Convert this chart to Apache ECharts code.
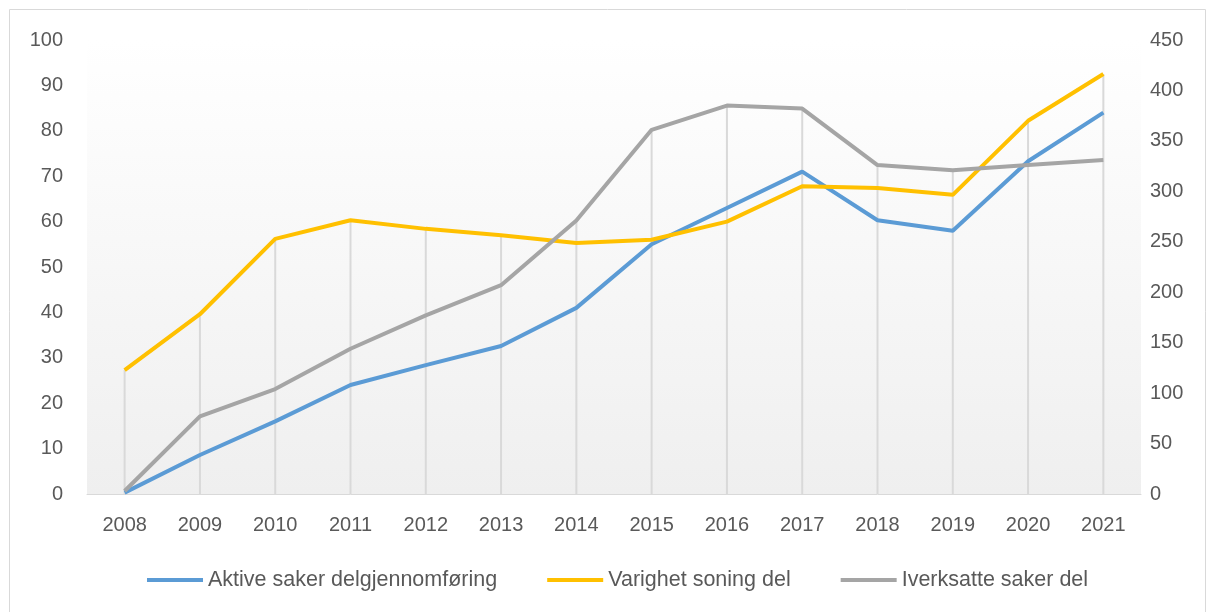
<!DOCTYPE html>
<html>
<head>
    <meta charset="utf-8">
    <title>Delgjennomføring</title>
    <style>
        html, body { margin: 0; padding: 0; background: #fff; }
    </style>
</head>
<body>
    <div id="main" style="width: 1208px; height: 612px;"></div>
    <script src="https://cdn.jsdelivr.net/npm/echarts@6/dist/echarts.min.js"></script>
    <script type="text/javascript">
        // data
        var years = ['2008', '2009', '2010', '2011', '2012', '2013', '2014',
                     '2015', '2016', '2017', '2018', '2019', '2020', '2021'];
        var aktive = [0.3, 8.6, 16, 24, 28.4, 32.6, 41, 55, 63, 71, 60.3, 58, 73.3, 84];
        var varighet = [27.3, 39.6, 56.2, 60.3, 58.4, 57, 55.3, 56, 60, 67.8, 67.4, 65.9, 82.2, 92.5];
        var iverksatte = [3, 77, 104, 144, 177, 207, 271, 361, 385, 382, 326, 321, 326, 331];

        var leftMax = 100, rightMax = 450;

        // drop lines: up to the highest point in each year (in left-axis units)
        var dropTop = years.map(function (y, i) {
            return Math.max(aktive[i], varighet[i], iverksatte[i] * leftMax / rightMax);
        });

        var font = 'Liberation Sans';
        var labelColor = '#595959';

        var chart = echarts.init(document.getElementById('main'));
        var option = {
            animation: false,
            textStyle: { fontFamily: font },
            graphic: [{
                type: 'rect',
                shape: { x: 9.5, y: 9.5, width: 1196, height: 610 },
                style: { fill: 'none', stroke: '#d9d9d9', lineWidth: 1 },
                silent: true
            }],
            grid: {
                left: 87, right: 67, top: 40, bottom: 118,
                show: true,
                borderWidth: 0,
                backgroundColor: {
                    type: 'linear', x: 0, y: 0, x2: 0, y2: 1,
                    colorStops: [
                        { offset: 0, color: '#ffffff' },
                        { offset: 1, color: '#efefef' }
                    ]
                }
            },
            legend: {
                data: ['Aktive saker delgjennomføring', 'Varighet soning del', 'Iverksatte saker del'],
                top: 564,
                left: 142,
                icon: 'rect',
                itemWidth: 56,
                itemHeight: 4,
                itemGap: 50,
                textStyle: { fontFamily: font, fontSize: 21.5, color: labelColor }
            },
            xAxis: {
                type: 'category',
                data: years,
                axisLine: { lineStyle: { color: '#d9d9d9', width: 1 } },
                axisTick: { show: false },
                axisLabel: { color: labelColor, fontSize: 20, margin: 21 }
            },
            yAxis: [{
                type: 'value',
                min: 0, max: leftMax, interval: 10,
                splitLine: { show: false },
                axisLine: { show: false },
                axisTick: { show: false },
                axisLabel: { color: labelColor, fontSize: 20, margin: 24 }
            }, {
                type: 'value',
                min: 0, max: rightMax, interval: 50,
                splitLine: { show: false },
                axisLine: { show: false },
                axisTick: { show: false },
                axisLabel: { color: labelColor, fontSize: 20, margin: 9 }
            }],
            series: [{
                name: 'drop',
                type: 'bar',
                data: dropTop,
                barWidth: 2,
                itemStyle: { color: '#d9d9d9' },
                silent: true,
                z: 1
            }, {
                name: 'Aktive saker delgjennomføring',
                type: 'line',
                data: aktive,
                showSymbol: false,
                lineStyle: { color: '#5b9bd5', width: 4 },
                itemStyle: { color: '#5b9bd5' },
                z: 3
            }, {
                name: 'Varighet soning del',
                type: 'line',
                data: varighet,
                showSymbol: false,
                lineStyle: { color: '#ffc000', width: 4 },
                itemStyle: { color: '#ffc000' },
                z: 3
            }, {
                name: 'Iverksatte saker del',
                type: 'line',
                yAxisIndex: 1,
                data: iverksatte,
                showSymbol: false,
                lineStyle: { color: '#a5a5a5', width: 4 },
                itemStyle: { color: '#a5a5a5' },
                z: 3
            }]
        };
        chart.setOption(option);
    </script>
</body>
</html>
